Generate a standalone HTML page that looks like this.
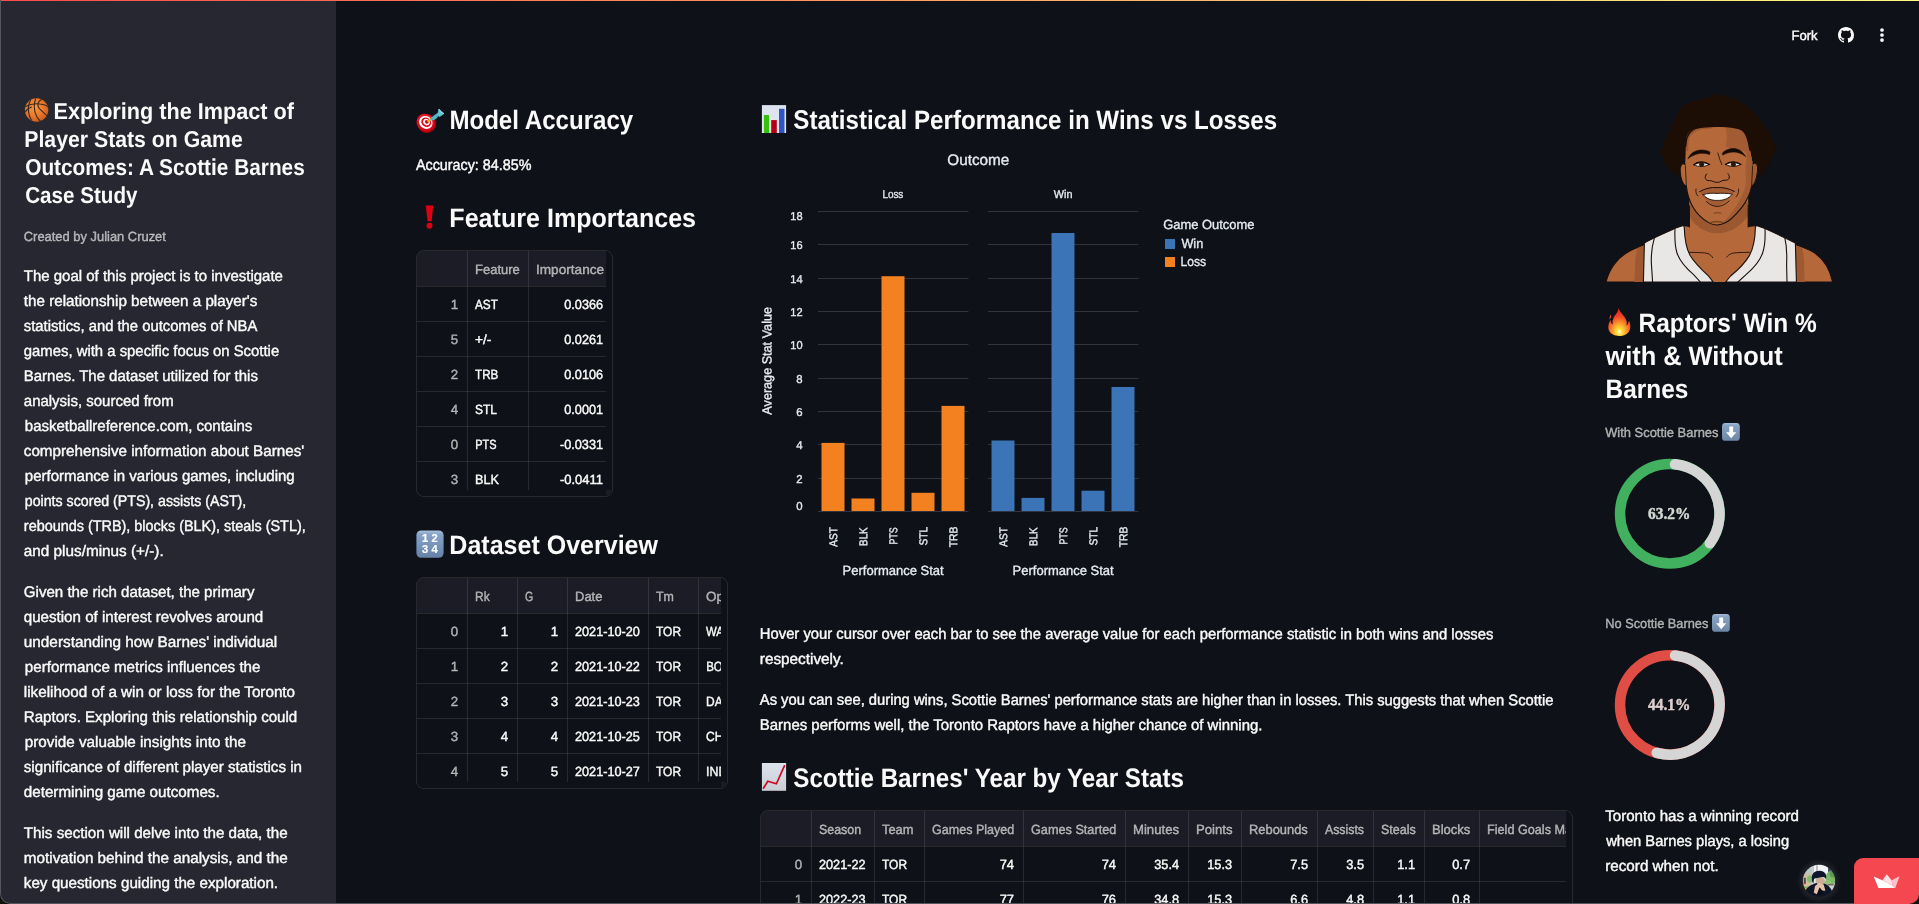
<!DOCTYPE html>
<html lang="en"><head><meta charset="utf-8"><title>Scottie Barnes Case Study</title>
<style>
html,body{margin:0;padding:0;background:#10130a;}
body{width:1919px;height:904px;overflow:hidden;font-family:'Liberation Sans', sans-serif;}
#app{position:relative;width:1919px;height:904px;overflow:hidden;background:#0e1117;border-radius:0 0 10px 10px;}
.abs{position:absolute}
.deco{position:absolute;left:0;top:0;width:1919px;height:1.2px;background:linear-gradient(90deg,#ff4b4b,#fffd80);z-index:30}
.sidebar{position:absolute;left:0;top:0;width:336px;height:904px;background:#262730}
.t{position:absolute;white-space:pre;display:block;height:1em;overflow:visible;-webkit-font-smoothing:antialiased}
.t i{font-style:normal;display:inline-block;transform-origin:0 0;white-space:pre}
.tbl{position:absolute;box-sizing:border-box;border:1px solid #27292f;border-radius:8px;overflow:hidden;background:#0e1117}
.thead{position:absolute;left:0;top:0;height:35px;background:#1b1c25}
.hl{position:absolute;left:0;height:1px;background:rgba(250,250,250,0.105)}
.vl{position:absolute;top:0;width:1px;background:rgba(250,250,250,0.105)}
.tframe{position:absolute;box-sizing:border-box;border:1px solid #27292f;border-radius:8px;overflow:hidden}
.gut{position:absolute;background:#0e1117}
.corner{position:absolute;background:#1b1c25}
.clip{position:absolute;overflow:hidden}
.txt{position:absolute;left:0;top:0;width:1919px;height:904px;will-change:transform}
.winborder{position:absolute;left:0;top:0;width:1919px;height:904px;box-sizing:border-box;border-left:1px solid #54565e;border-bottom:1px solid #54565e;border-radius:0 0 10px 10px;z-index:50;pointer-events:none}
.badge{position:absolute;left:1854px;top:858px;width:70px;height:50px;background:#f4474f;border-radius:9px 0 0 0;z-index:60}
</style></head>
<body>
<div id="app">
  <div class="deco"></div>
  <aside class="sidebar"></aside>
  <main>
  <div class="tbl" style="left:416px;top:250px;width:197px;height:247px"><div class="thead" style="width:189px"></div><div class="hl" style="top:35px;width:189px"></div><div class="hl" style="top:70px;width:189px"></div><div class="hl" style="top:105px;width:189px"></div><div class="hl" style="top:140px;width:189px"></div><div class="hl" style="top:175px;width:189px"></div><div class="hl" style="top:210px;width:189px"></div><div class="vl" style="left:50px;height:239px"></div><div class="vl" style="left:111px;height:239px"></div></div>
<div class="tbl" style="left:416px;top:577px;width:312px;height:212px"><div class="thead" style="width:304px"></div><div class="hl" style="top:35px;width:304px"></div><div class="hl" style="top:70px;width:304px"></div><div class="hl" style="top:105px;width:304px"></div><div class="hl" style="top:140px;width:304px"></div><div class="hl" style="top:175px;width:304px"></div><div class="vl" style="left:50px;height:204px"></div><div class="vl" style="left:100px;height:204px"></div><div class="vl" style="left:150px;height:204px"></div><div class="vl" style="left:231px;height:204px"></div><div class="vl" style="left:281px;height:204px"></div></div>
<div class="tbl" style="left:760px;top:810px;width:813px;height:111px"><div class="thead" style="width:805px"></div><div class="hl" style="top:35px;width:805px"></div><div class="hl" style="top:70px;width:805px"></div><div class="hl" style="top:105px;width:805px"></div><div class="vl" style="left:50px;height:109px"></div><div class="vl" style="left:113px;height:109px"></div><div class="vl" style="left:163px;height:109px"></div><div class="vl" style="left:262px;height:109px"></div><div class="vl" style="left:364px;height:109px"></div><div class="vl" style="left:427px;height:109px"></div><div class="vl" style="left:480px;height:109px"></div><div class="vl" style="left:556px;height:109px"></div><div class="vl" style="left:612px;height:109px"></div><div class="vl" style="left:663px;height:109px"></div><div class="vl" style="left:718px;height:109px"></div></div>
  <svg class="abs" style="left:0;top:0" width="1919" height="904" viewBox="0 0 1919 904"><line x1="818" x2="968.5" y1="511.5" y2="511.5" stroke="#31333f" stroke-width="1"/><line x1="818" x2="968.5" y1="478.5" y2="478.5" stroke="#31333f" stroke-width="1"/><line x1="818" x2="968.5" y1="444.5" y2="444.5" stroke="#31333f" stroke-width="1"/><line x1="818" x2="968.5" y1="411.5" y2="411.5" stroke="#31333f" stroke-width="1"/><line x1="818" x2="968.5" y1="378.5" y2="378.5" stroke="#31333f" stroke-width="1"/><line x1="818" x2="968.5" y1="344.5" y2="344.5" stroke="#31333f" stroke-width="1"/><line x1="818" x2="968.5" y1="311.5" y2="311.5" stroke="#31333f" stroke-width="1"/><line x1="818" x2="968.5" y1="278.5" y2="278.5" stroke="#31333f" stroke-width="1"/><line x1="818" x2="968.5" y1="244.5" y2="244.5" stroke="#31333f" stroke-width="1"/><line x1="818" x2="968.5" y1="211.5" y2="211.5" stroke="#31333f" stroke-width="1"/><line x1="988" x2="1138.5" y1="511.5" y2="511.5" stroke="#31333f" stroke-width="1"/><line x1="988" x2="1138.5" y1="478.5" y2="478.5" stroke="#31333f" stroke-width="1"/><line x1="988" x2="1138.5" y1="444.5" y2="444.5" stroke="#31333f" stroke-width="1"/><line x1="988" x2="1138.5" y1="411.5" y2="411.5" stroke="#31333f" stroke-width="1"/><line x1="988" x2="1138.5" y1="378.5" y2="378.5" stroke="#31333f" stroke-width="1"/><line x1="988" x2="1138.5" y1="344.5" y2="344.5" stroke="#31333f" stroke-width="1"/><line x1="988" x2="1138.5" y1="311.5" y2="311.5" stroke="#31333f" stroke-width="1"/><line x1="988" x2="1138.5" y1="278.5" y2="278.5" stroke="#31333f" stroke-width="1"/><line x1="988" x2="1138.5" y1="244.5" y2="244.5" stroke="#31333f" stroke-width="1"/><line x1="988" x2="1138.5" y1="211.5" y2="211.5" stroke="#31333f" stroke-width="1"/><rect x="821.50" y="442.90" width="23" height="68.10" fill="#f48120"/><rect x="851.50" y="498.50" width="23" height="12.50" fill="#f48120"/><rect x="881.50" y="276.20" width="23" height="234.80" fill="#f48120"/><rect x="911.50" y="492.80" width="23" height="18.20" fill="#f48120"/><rect x="941.50" y="405.90" width="23" height="105.10" fill="#f48120"/><rect x="991.50" y="440.50" width="23" height="70.50" fill="#3b75b7"/><rect x="1021.50" y="497.90" width="23" height="13.10" fill="#3b75b7"/><rect x="1051.50" y="233.00" width="23" height="278.00" fill="#3b75b7"/><rect x="1081.50" y="490.70" width="23" height="20.30" fill="#3b75b7"/><rect x="1111.50" y="387.00" width="23" height="124.00" fill="#3b75b7"/><rect x="1165" y="239" width="10" height="10" fill="#3b75b7"/><rect x="1165" y="257" width="10" height="10" fill="#f48120"/></svg>
  <div class="txt">
  
<svg class="abs" style="left:1600px;top:90px" width="240" height="192" viewBox="1600 90 240 192">
<defs><clipPath id="pclip"><rect x="1600" y="90" width="240" height="192"/></clipPath>
<clipPath id="faceclip"><path d="M1686 141 C1686 131 1694 127.5 1703 127 C1712 125.6 1730 125.6 1739 128.6 C1747 131 1748.5 141 1750 150 L1752.8 164 C1756 161.5 1758.6 165 1757.6 171 C1756.6 178 1755.4 184.5 1751.6 186.4 C1750.2 194 1747 200.6 1741.8 207.3 C1736 214.6 1729.6 221.2 1723.6 223.6 C1719 225.4 1713 225.2 1708.6 222.6 C1702.6 219 1696.6 213.6 1692.6 206.4 C1688.8 199.6 1687.2 193.6 1686.4 186.6 C1682.4 184.6 1680.6 177.6 1680.2 171 C1679.8 165.4 1682.2 162.2 1685.2 164.6 Z"/></clipPath></defs>
<g clip-path="url(#pclip)" stroke-linejoin="round" stroke-linecap="round">
<!-- arms / shoulders -->
<path d="M1606 282 C1609 270 1617 258 1628 252 C1634 248.5 1640 246.5 1645 244.5 L1645 282 Z" fill="#b5693a" stroke="#1a0f0a" stroke-width="1.1"/>
<path d="M1634 282 C1636 272 1633.5 262 1637.5 248 L1645 245 L1645 282 Z" fill="#9e5931"/>
<path d="M1832.6 282 C1830 270 1824 259 1814 252.6 C1808 249 1801 246.6 1795 244.6 L1795 282 Z" fill="#b5693a" stroke="#1a0f0a" stroke-width="1.1"/>
<path d="M1805 282 C1803 272 1806 262 1802 248 L1795 245 L1795 282 Z" fill="#9e5931"/>
<!-- neck and chest -->
<path d="M1689.4 200 L1689.4 227 L1683 226 L1683 282 L1757 282 L1757 226 L1748.2 227 L1748.2 198 Z" fill="#b5693a"/>
<path d="M1689.4 202 L1689.4 216.5 C1696 227.5 1706 233.2 1717.4 233.2 C1729 233.2 1740 227.5 1748.2 215.5 L1748.2 202 Z" fill="#9a5730"/>
<path d="M1689.4 206 L1689.4 227 M1748.2 205 L1748.2 227" fill="none" stroke="#1a0f0a" stroke-width="1.1"/>
<path d="M1688.2 252.3 C1697 252.6 1704 252.4 1708 253.6 C1710.4 254.6 1711.6 256 1712.6 257.6 M1749.4 252.3 C1741 252.6 1735 252.4 1731.4 253.6 C1729 254.6 1727.8 255.6 1726.8 257" fill="none" stroke="#1a0f0a" stroke-width="0.9"/>
<!-- jersey left -->
<path d="M1643.4 282 L1644.4 243 C1652 238.6 1664 233.6 1675 228.2 L1683.2 225.4 L1684.2 227 C1684.6 238 1686 248 1690 255.2 C1695 263.6 1702 270 1708.8 276.3 L1713.2 282 Z" fill="#e9e7e5" stroke="#1a0f0a" stroke-width="1.1"/>
<path d="M1654.4 237.6 C1652 246 1651 256 1651.4 264 L1652.6 282" fill="none" stroke="#1a0f0a" stroke-width="1.1"/>
<path d="M1675 228.6 C1674.6 238 1674.8 246 1677 253 C1680 262 1687 269 1693.6 274.6 L1700.4 282" fill="none" stroke="#1a0f0a" stroke-width="1.1"/>
<!-- jersey right -->
<path d="M1796.4 282 L1795.4 243 C1787 238.6 1776 233.6 1765 228.6 L1756.4 225.4 L1755.4 227 C1755.2 238 1753.6 248 1749.4 255.6 C1744.6 263.6 1738 270 1730.6 276 L1725.6 282 Z" fill="#e9e7e5" stroke="#1a0f0a" stroke-width="1.1"/>
<path d="M1784.8 237.6 C1786.8 246 1787 256 1786.6 264 L1787 282" fill="none" stroke="#1a0f0a" stroke-width="1.1"/>
<path d="M1765 229 C1765.4 238 1765 246 1762.6 253 C1759.6 262 1752.6 269 1746 274.6 L1738 282" fill="none" stroke="#1a0f0a" stroke-width="1.1"/>
<!-- hair -->
<path d="M1720.0 95.6 Q1721.5 94.5 1722.6 97.4 Q1724.8 94.7 1726.4 96.0 Q1727.8 95.3 1728.4 98.6 Q1731.3 96.5 1733.0 98.2 Q1735.8 97.8 1737.0 101.0 Q1740.5 100.6 1742.0 103.6 Q1745.7 104.0 1747.0 107.6 Q1750.4 108.2 1751.0 111.6 Q1754.9 112.1 1755.6 115.0 Q1759.0 116.5 1759.0 120.0 Q1763.1 122.0 1763.4 125.4 Q1766.8 127.2 1766.4 130.0 Q1770.5 132.5 1770.6 135.6 Q1773.3 138.2 1772.0 141.0 Q1775.3 144.1 1774.6 147.0 Q1775.8 150.1 1773.0 152.6 Q1774.4 155.6 1772.0 157.6 Q1772.2 160.0 1768.6 161.0 Q1769.9 164.3 1767.6 166.0 Q1767.2 169.2 1763.4 170.4 Q1764.6 174.4 1762.6 176.0 Q1761.4 174.2 1757.0 170.0 Q1753.5 160.0 1750.0 150.0 Q1718.0 148.0 1686.0 146.0 Q1684.5 157.0 1683.0 168.0 Q1678.3 173.5 1676.6 176.4 Q1673.7 175.1 1674.0 171.4 Q1670.1 170.6 1669.6 167.6 Q1666.2 166.5 1666.4 163.6 Q1663.6 161.5 1664.6 158.0 Q1661.1 155.0 1661.4 151.0 Q1660.7 149.1 1664.0 146.6 Q1662.8 143.9 1665.6 141.0 Q1665.0 138.4 1668.4 136.0 Q1667.7 132.7 1671.0 130.0 Q1670.4 126.5 1673.6 124.0 Q1673.0 121.0 1676.0 119.6 Q1674.5 116.7 1676.6 115.6 Q1676.8 112.7 1680.4 112.0 Q1680.2 108.0 1683.0 106.6 Q1684.6 104.1 1689.0 104.6 Q1690.3 101.5 1694.0 101.6 Q1696.0 99.3 1700.0 100.6 Q1701.8 97.6 1705.0 98.4 Q1707.2 96.3 1710.4 98.0 Q1712.2 94.7 1714.6 95.4 Q1717.3 93.5 1720.0 95.6 Z" fill="#1d0e05" stroke="#1d0e05" stroke-width="0.8"/>
<!-- face base -->
<path d="M1686 141 C1686 131 1694 127.5 1703 127 C1712 125.6 1730 125.6 1739 128.6 C1747 131 1748.5 141 1750 150 L1752.8 164 C1756 161.5 1758.6 165 1757.6 171 C1756.6 178 1755.4 184.5 1751.6 186.4 C1750.2 194 1747 200.6 1741.8 207.3 C1736 214.6 1729.6 221.2 1723.6 223.6 C1719 225.4 1713 225.2 1708.6 222.6 C1702.6 219 1696.6 213.6 1692.6 206.4 C1688.8 199.6 1687.2 193.6 1686.4 186.6 C1682.4 184.6 1680.6 177.6 1680.2 171 C1679.8 165.4 1682.2 162.2 1685.2 164.6 Z" fill="#b5693a"/>
<g clip-path="url(#faceclip)">
<path d="M1724 124 C1728 132 1727 140 1725.6 147 L1746 152 C1748 160 1744 170 1746 178 C1747 186 1742 196 1738 203 C1733 212 1727 218 1722 224 L1760 224 L1760 124 Z" fill="#a25c33"/>
<path d="M1686 150 L1686 141 C1686 131 1694 127.5 1703 127 L1712 126 L1712 128.5 C1700 128.5 1690 131 1688.6 142 L1688 152 Z" fill="#8a4a26" opacity="0.55"/>
</g>
<path d="M1685.6 146 C1686 131 1694 127.5 1703 127 C1712 125.6 1730 125.6 1739 128.6 C1747 131 1748.5 141 1750 150" fill="none" stroke="#1d0e05" stroke-width="1.6"/>
<path d="M1752.8 164 C1756 161.5 1758.6 165 1757.6 171 C1756.6 178 1755.4 184.5 1751.6 186.4 C1750.2 194 1747 200.6 1741.8 207.3 C1736 214.6 1729.6 221.2 1723.6 223.6 C1719 225.4 1713 225.2 1708.6 222.6 C1702.6 219 1696.6 213.6 1692.6 206.4 C1688.8 199.6 1687.2 193.6 1686.4 186.6 C1682.4 184.6 1680.6 177.6 1680.2 171 C1679.8 165.4 1682.2 162.2 1685.2 164.6" fill="none" stroke="#1a0f0a" stroke-width="1.1"/>
<path d="M1686.4 186.6 L1685.4 166 M1751.6 186.4 L1752.6 166" fill="none" stroke="#1a0f0a" stroke-width="0.8"/>
<path d="M1711 222.6 C1714 221.6 1720 221.6 1723 222.4" fill="none" stroke="#7a4a22" stroke-width="1.6"/>
<!-- eyebrows -->
<path d="M1688.2 158.4 C1690.4 153.6 1694 151 1699 150.2 C1703.6 149.6 1707.6 150.6 1710 152 L1709.6 154.6 C1706 153.2 1702.4 153 1698.8 153.6 C1694.6 154.4 1691 156.4 1688.2 158.4 Z" fill="#150a04" stroke="#150a04" stroke-width="0.6"/>
<path d="M1722.4 153 C1725 150.4 1729 148.6 1733 148.6 C1738 148.6 1742.4 151 1745.6 156.6 C1742 153.6 1738 152 1733.6 152 C1729.6 152 1726 153.2 1723 155 Z" fill="#150a04" stroke="#150a04" stroke-width="0.6"/>
<!-- eyes -->
<path d="M1694.4 165 C1697.6 162.2 1704 161.8 1709 164.6 C1705 167 1698 167.2 1694.4 165 Z" fill="#efe9e4" stroke="#150a04" stroke-width="0.9"/>
<ellipse cx="1701.6" cy="164.6" rx="2.6" ry="2.2" fill="#2a160a"/>
<path d="M1726 164.6 C1729.6 161.8 1736 162 1740.4 164.6 C1736.6 167 1729.6 167 1726 164.6 Z" fill="#efe9e4" stroke="#150a04" stroke-width="0.9"/>
<ellipse cx="1733.4" cy="164.4" rx="2.6" ry="2.2" fill="#2a160a"/>
<path d="M1693.6 164.6 C1697.6 161.2 1704.4 161 1709.6 164.4 M1725.4 164.4 C1729.6 161 1736.4 161.2 1741 164.4" fill="none" stroke="#150a04" stroke-width="1.2"/>
<!-- nose -->
<path d="M1717.8 153 C1718.8 157 1720.4 161 1721.8 164.6" fill="none" stroke="#1a0f0a" stroke-width="0.8"/>
<path d="M1706.6 174 C1704 177 1705 181 1709.4 180.6 C1712.4 180.4 1714 182.6 1717.4 182.4 C1720.6 182.2 1722 180 1725 180.2 C1729.6 180.6 1730.6 176.6 1728 173.6" fill="none" stroke="#1a0f0a" stroke-width="1"/>
<!-- mouth -->
<path d="M1699.6 191.6 C1705 188.6 1711 187 1717 187.6 C1723 187 1729 188.6 1734.4 191.4 C1731 197 1726 202.6 1717 206.4 C1708 202.8 1703 197 1699.6 191.6 Z" fill="#a35b33"/>
<path d="M1703.2 194.6 C1708 193 1712.6 193.2 1717 193.4 C1722 193.2 1727 193 1732.2 194.2 C1729 198.6 1723.6 200.6 1717.4 200.4 C1711.6 200.6 1706.4 198.8 1703.2 194.6 Z" fill="#ffffff" stroke="#1a0f0a" stroke-width="0.9"/>
<path d="M1699.6 191.6 C1705 188.6 1711 187 1717 187.6 C1723 187 1729 188.6 1734.4 191.4" fill="none" stroke="#1a0f0a" stroke-width="1"/>
<path d="M1706.4 201.6 C1710 205 1714 206.4 1717.4 206.4 C1721 206.4 1725.6 204.6 1729.2 200.8" fill="none" stroke="#1a0f0a" stroke-width="0.9"/>
<path d="M1696 189 C1695.4 192 1696.4 194.6 1697.8 196 M1738.6 189 C1739 192 1737.8 195 1736.2 196.8" fill="none" stroke="#1a0f0a" stroke-width="0.8"/>
<path d="M1713.8 213.2 C1715.6 212.6 1719 212.6 1721 213.2" fill="none" stroke="#6b3a1e" stroke-width="0.9"/>
</g></svg>
<svg class="abs" style="left:24px;top:97px" width="26" height="26" viewBox="0 0 26 26" ><defs><radialGradient id="bb" cx="0.42" cy="0.4" r="0.65"><stop offset="0" stop-color="#f89a3e"/><stop offset="0.6" stop-color="#e8762a"/><stop offset="1" stop-color="#c65a1c"/></radialGradient><clipPath id="bbc"><circle cx="12.6" cy="13" r="11.7"/></clipPath></defs>
<circle cx="12.6" cy="13" r="11.7" fill="url(#bb)"/>
<g clip-path="url(#bbc)" fill="none" stroke="#3b2a20" stroke-width="1.15" stroke-linecap="round">
<path d="M18 2.4 C13.6 3.6 13.6 8 14.4 10 C16 13.6 22 16.6 24.4 20.6"/>
<path d="M1.6 9.6 C6 7 12 6.4 16 7 C19.6 7.4 22.6 8.6 24 10"/>
<path d="M11.6 1.6 C9.6 8 10 15 13 20 C14.4 22.4 16 24 17.4 25"/>
<path d="M6.4 3.6 C4.6 7 4 11 4.6 15 C5 18.4 6 21 7.4 23"/>
<path d="M1.4 14.6 C3 12.4 5 11 7.4 10"/>
</g></svg>
<svg class="abs" style="left:414px;top:106px" width="32" height="28" viewBox="414 106 32 28" ><defs><radialGradient id="dg" cx="0.4" cy="0.4" r="0.7"><stop offset="0" stop-color="#ff2a3a"/><stop offset="1" stop-color="#c40014"/></radialGradient></defs>
<ellipse cx="426.6" cy="123.6" rx="9.6" ry="9.2" fill="#a8000f" transform="rotate(35 426.6 123.6)"/>
<ellipse cx="425.6" cy="122.6" rx="9.4" ry="8.6" fill="url(#dg)" transform="rotate(35 425.6 122.6)"/>
<ellipse cx="425.8" cy="122.4" rx="7" ry="6.2" fill="#fff" transform="rotate(35 425.8 122.4)"/>
<ellipse cx="426.2" cy="122.2" rx="5.2" ry="4.5" fill="#e0101f" transform="rotate(35 426.2 122.2)"/>
<ellipse cx="426.5" cy="122" rx="3.5" ry="3" fill="#fff" transform="rotate(35 426.5 122)"/>
<ellipse cx="426.8" cy="121.8" rx="2" ry="1.7" fill="#d40012" transform="rotate(35 426.8 121.8)"/>
<path d="M428 121.4 L431.4 118.4" stroke="#e9b800" stroke-width="1.6" stroke-linecap="round"/>
<path d="M431 119.6 C433 116.6 436 114.4 439 113.4 L437.6 116 C435.6 118.6 433.4 120.2 431 119.6 Z" fill="#5fc4d4" stroke="#4ab0c2" stroke-width="1.6" stroke-linejoin="round"/>
<path d="M437.6 115 L439 109 L441.6 111.6 L444 113.6 L439.6 116.6 Z" fill="#5fc4d4" stroke="#5fc4d4" stroke-width="0.8" stroke-linejoin="round"/>
<path d="M438.8 109.2 L441 112.4 L443.8 113.6" fill="none" stroke="#9fe0ea" stroke-width="0.8"/></svg>
<svg class="abs" style="left:422px;top:203px" width="16" height="28" viewBox="422 203 16 28" ><path d="M425.7 205.6 L433.2 205.6 L431.6 221.2 L427.6 221.2 Z" fill="#de0012"/><circle cx="429.5" cy="225.7" r="3" fill="#de0012"/></svg>
<svg class="abs" style="left:415px;top:529px" width="30" height="30" viewBox="415 529 30 30" ><defs><linearGradient id="ng" x1="0" y1="0" x2="0" y2="1"><stop offset="0" stop-color="#a9c1de"/><stop offset="0.14" stop-color="#86a4c9"/><stop offset="1" stop-color="#6482a8"/></linearGradient></defs>
<rect x="416.4" y="530.4" width="27.2" height="27.4" rx="4.8" fill="url(#ng)"/>
<g font-family="'Liberation Sans',sans-serif" font-weight="700" font-size="10.3" fill="#fff" stroke="#fff" stroke-width="0.2" text-anchor="middle">
<text transform="translate(425.1 541.9) scale(1.08 1)">1</text><text transform="translate(434.6 541.9) scale(1.08 1)">2</text><text transform="translate(425.1 552.9) scale(1.08 1)">3</text><text transform="translate(434.6 552.9) scale(1.08 1)">4</text></g></svg>
<svg class="abs" style="left:760px;top:103px" width="28" height="32" viewBox="760 103 28 32" ><defs><linearGradient id="pg" x1="0" y1="0" x2="0" y2="1"><stop offset="0" stop-color="#dbe3ef"/><stop offset="1" stop-color="#e6e9ee"/></linearGradient></defs>
<rect x="761.9" y="105.1" width="24.2" height="27.9" fill="url(#pg)"/>
<rect x="763.9" y="115" width="5.1" height="18" fill="#36c20c"/><rect x="771.2" y="120.1" width="5.6" height="12.9" fill="#b20016"/><rect x="779" y="108.8" width="5.5" height="24.2" fill="#2f56c4"/></svg>
<svg class="abs" style="left:760px;top:761px" width="28" height="32" viewBox="760 761 28 32" ><defs><linearGradient id="pg2" x1="0" y1="0" x2="0" y2="1"><stop offset="0" stop-color="#dde3ec"/><stop offset="1" stop-color="#c9ced6"/></linearGradient></defs>
<rect x="761.9" y="763" width="24.2" height="27.8" fill="url(#pg2)"/>
<path d="M763.6 788 L767.8 781.2 L776.4 783.8 L784.4 765.8" fill="none" stroke="#cc0a22" stroke-width="1.7" stroke-linejoin="miter" stroke-linecap="round"/></svg>
<svg class="abs" style="left:1606px;top:306px" width="28" height="32" viewBox="1606 306 28 32" ><defs><radialGradient id="fg" cx="0.5" cy="0.86" r="0.75"><stop offset="0" stop-color="#fffbe0"/><stop offset="0.16" stop-color="#ffe23a"/><stop offset="0.42" stop-color="#fb9a2c"/><stop offset="0.75" stop-color="#f2452a"/><stop offset="1" stop-color="#e8281f"/></radialGradient></defs>
<path d="M1618.4 308 C1619.6 312 1624.6 315.6 1626.4 320.6 C1627 322.4 1626.8 324.4 1626.4 325.8 C1628 324.6 1628.6 322.4 1629 320.6 C1630.6 323.6 1630.8 327.6 1629.6 330.4 C1627.8 334.2 1623.6 335.9 1619.4 335.9 C1614.6 335.9 1610.6 334.4 1609 330.6 C1607.6 327 1608.6 322.6 1610.6 320 C1610.6 322 1611.4 323.6 1612.8 324.4 C1612 320 1614 316.6 1616.4 313.6 C1617.6 312 1618.4 310 1618.4 308 Z" fill="url(#fg)"/>
<path d="M1610.8 314.6 C1610 316.4 1609.2 318 1609.6 319.6 C1610.8 318.4 1611.4 316.4 1610.8 314.6 Z" fill="#f0502c"/></svg>
<svg class="abs" style="left:1721px;top:422.2px" width="20" height="20" viewBox="1721 422.2 20 20" ><defs><linearGradient id="dg1722" x1="0" y1="0" x2="0" y2="1"><stop offset="0" stop-color="#a9bfdb"/><stop offset="0.12" stop-color="#8aa4c6"/><stop offset="1" stop-color="#6c86a6"/></linearGradient></defs>
<rect x="1722" y="423.2" width="17.8" height="17.8" rx="3.4" fill="url(#dg1722)"/>
<path d="M1729.3 426.7 h3.8 v5.7 h3.2 l-5.1 6 l-5.1 -6 h3.2 z" fill="#fff"/></svg>
<svg class="abs" style="left:1711.1px;top:613.2px" width="20" height="20" viewBox="1711.1 613.2 20 20" ><defs><linearGradient id="dg1712" x1="0" y1="0" x2="0" y2="1"><stop offset="0" stop-color="#a9bfdb"/><stop offset="0.12" stop-color="#8aa4c6"/><stop offset="1" stop-color="#6c86a6"/></linearGradient></defs>
<rect x="1712.1" y="614.2" width="17.8" height="17.8" rx="3.4" fill="url(#dg1712)"/>
<path d="M1719.3999999999999 617.7 h3.8 v5.7 h3.2 l-5.1 6 l-5.1 -6 h3.2 z" fill="#fff"/></svg>
<svg class="abs" style="left:1838px;top:27px" width="16" height="16" viewBox="0 0 16 16" ><path fill="#fafafa" d="M8 0C3.58 0 0 3.58 0 8c0 3.54 2.29 6.53 5.47 7.59.4.07.55-.17.55-.38 0-.19-.01-.82-.01-1.49-2.01.37-2.53-.49-2.69-.94-.09-.23-.48-.94-.82-1.13-.28-.15-.68-.52-.01-.53.63-.01 1.08.58 1.23.82.72 1.21 1.87.87 2.33.66.07-.52.28-.87.51-1.07-1.78-.2-3.64-.89-3.64-3.95 0-.87.31-1.59.82-2.15-.08-.2-.36-1.02.08-2.12 0 0 .67-.21 2.2.82.64-.18 1.32-.27 2-.27.68 0 1.36.09 2 .27 1.53-1.04 2.2-.82 2.2-.82.44 1.1.16 1.92.08 2.12.51.56.82 1.27.82 2.15 0 3.07-1.87 3.75-3.65 3.95.29.25.54.73.54 1.48 0 1.07-.01 1.93-.01 2.2 0 .21.15.46.55.38A8.013 8.013 0 0016 8c0-4.42-3.58-8-8-8z"/></svg>
<svg class="abs" style="left:1876px;top:26px" width="12" height="18" viewBox="1876 26 12 18" ><circle cx="1882" cy="30" r="1.85" fill="#fafafa"/><circle cx="1882" cy="35" r="1.85" fill="#fafafa"/><circle cx="1882" cy="40.1" r="1.85" fill="#fafafa"/></svg>
  <svg class="abs" style="left:0;top:0" width="1919" height="904" viewBox="0 0 1919 904"><circle cx="1669.8" cy="513.8" r="49.75" fill="none" stroke="#41b05f" stroke-width="10.5"/><path d="M1675.04 464.33 A49.75 49.75 0 0 1 1709.83 543.35" fill="none" stroke="#d5d5d5" stroke-width="10.5" stroke-linecap="round"/><text x="1669.2" y="519.0999999999999" text-anchor="middle" font-family="'Liberation Serif', serif" font-weight="700" font-size="16" fill="#d3d9d3" stroke="#d3d9d3" stroke-width="0.45" textLength="42.4" lengthAdjust="spacingAndGlyphs">63.2%</text><circle cx="1669.8" cy="704.9" r="49.75" fill="none" stroke="#e04d44" stroke-width="10.5"/><path d="M1675.04 655.43 A49.75 49.75 0 1 1 1656.76 752.91" fill="none" stroke="#d5d5d5" stroke-width="10.5" stroke-linecap="round"/><text x="1669.2" y="710.1999999999999" text-anchor="middle" font-family="'Liberation Serif', serif" font-weight="700" font-size="16" fill="#ded0d0" stroke="#ded0d0" stroke-width="0.45" textLength="42.4" lengthAdjust="spacingAndGlyphs">44.1%</text></svg>
<span class="t" style="left:53px;top:100px;font:700 23.0px/1 'Liberation Sans';color:#fafafa;"><i style="transform:translateX(0.46px) translateY(-0.06px) scaleX(0.9406) rotate(0.03deg);">Exploring the Impact of</i></span>
<span class="t" style="left:24px;top:128px;font:700 23.0px/1 'Liberation Sans';color:#fafafa;"><i style="transform:translateX(0.28px) translateY(-0.06px) scaleX(0.9238) rotate(0.03deg);">Player Stats on Game</i></span>
<span class="t" style="left:25px;top:156px;font:700 23.0px/1 'Liberation Sans';color:#fafafa;"><i style="transform:translateX(0.20px) translateY(-0.07px) scaleX(0.9052) rotate(0.03deg);">Outcomes: A Scottie Barnes</i></span>
<span class="t" style="left:25px;top:184px;font:700 23.0px/1 'Liberation Sans';color:#fafafa;"><i style="transform:translateX(0.20px) scaleX(0.8968) rotate(0.03deg);">Case Study</i></span>
<span class="t" style="left:23px;top:230px;font:400 13.3px/1 'Liberation Sans';color:rgba(250,250,250,0.6);"><i style="transform:translateX(0.80px) scaleX(0.9707) rotate(0.03deg);-webkit-text-stroke:0.38px currentColor;">Created by Julian Cruzet</i></span>
<span class="t" style="left:23px;top:268px;font:400 15.3px/1 'Liberation Sans';color:#fafafa;"><i style="transform:translateX(0.80px) translateY(-0.07px) scaleX(0.9798) rotate(0.03deg);-webkit-text-stroke:0.42px currentColor;">The goal of this project is to investigate</i></span>
<span class="t" style="left:23px;top:293px;font:400 15.3px/1 'Liberation Sans';color:#fafafa;"><i style="transform:translateX(0.80px) translateY(-0.06px) scaleX(0.9933) rotate(0.03deg);-webkit-text-stroke:0.42px currentColor;">the relationship between a player&#x27;s</i></span>
<span class="t" style="left:23px;top:318px;font:400 15.3px/1 'Liberation Sans';color:#fafafa;"><i style="transform:translateX(0.80px) translateY(-0.06px) scaleX(0.9670) rotate(0.03deg);-webkit-text-stroke:0.42px currentColor;">statistics, and the outcomes of NBA</i></span>
<span class="t" style="left:23px;top:343px;font:400 15.3px/1 'Liberation Sans';color:#fafafa;"><i style="transform:translateX(0.80px) translateY(-0.07px) scaleX(0.9720) rotate(0.03deg);-webkit-text-stroke:0.42px currentColor;">games, with a specific focus on Scottie</i></span>
<span class="t" style="left:23px;top:368px;font:400 15.3px/1 'Liberation Sans';color:#fafafa;"><i style="transform:translateX(0.82px) translateY(-0.06px) scaleX(0.9772) rotate(0.03deg);-webkit-text-stroke:0.42px currentColor;">Barnes. The dataset utilized for this</i></span>
<span class="t" style="left:23px;top:393px;font:400 15.3px/1 'Liberation Sans';color:#fafafa;"><i style="transform:translateX(0.80px) scaleX(0.9794) rotate(0.03deg);-webkit-text-stroke:0.42px currentColor;">analysis, sourced from</i></span>
<span class="t" style="left:24px;top:418px;font:400 15.3px/1 'Liberation Sans';color:#fafafa;"><i style="transform:translateX(0.80px) translateY(-0.06px) scaleX(0.9801) rotate(0.03deg);-webkit-text-stroke:0.42px currentColor;">basketballreference.com, contains</i></span>
<span class="t" style="left:23px;top:443px;font:400 15.3px/1 'Liberation Sans';color:#fafafa;"><i style="transform:translateX(0.80px) translateY(-0.07px) scaleX(0.9950) rotate(0.03deg);-webkit-text-stroke:0.42px currentColor;">comprehensive information about Barnes&#x27;</i></span>
<span class="t" style="left:24px;top:468px;font:400 15.3px/1 'Liberation Sans';color:#fafafa;"><i style="transform:translateX(0.80px) translateY(-0.07px) scaleX(0.9829) rotate(0.03deg);-webkit-text-stroke:0.42px currentColor;">performance in various games, including</i></span>
<span class="t" style="left:24px;top:493px;font:400 15.3px/1 'Liberation Sans';color:#fafafa;"><i style="transform:translateX(0.80px) translateY(-0.06px) scaleX(0.9272) rotate(0.03deg);-webkit-text-stroke:0.42px currentColor;">points scored (PTS), assists (AST),</i></span>
<span class="t" style="left:23px;top:518px;font:400 15.3px/1 'Liberation Sans';color:#fafafa;"><i style="transform:translateX(0.86px) translateY(-0.07px) scaleX(0.9419) rotate(0.03deg);-webkit-text-stroke:0.42px currentColor;">rebounds (TRB), blocks (BLK), steals (STL),</i></span>
<span class="t" style="left:23px;top:543px;font:400 15.3px/1 'Liberation Sans';color:#fafafa;"><i style="transform:translateX(0.80px) scaleX(1.0003) rotate(0.03deg);-webkit-text-stroke:0.42px currentColor;">and plus/minus (+/-).</i></span>
<span class="t" style="left:23px;top:584px;font:400 15.3px/1 'Liberation Sans';color:#fafafa;"><i style="transform:translateX(0.80px) translateY(-0.06px) scaleX(0.9864) rotate(0.03deg);-webkit-text-stroke:0.42px currentColor;">Given the rich dataset, the primary</i></span>
<span class="t" style="left:23px;top:609px;font:400 15.3px/1 'Liberation Sans';color:#fafafa;"><i style="transform:translateX(0.80px) translateY(-0.06px) scaleX(0.9880) rotate(0.03deg);-webkit-text-stroke:0.42px currentColor;">question of interest revolves around</i></span>
<span class="t" style="left:23px;top:634px;font:400 15.3px/1 'Liberation Sans';color:#fafafa;"><i style="transform:translateX(0.80px) translateY(-0.07px) scaleX(1.0020) rotate(0.03deg);-webkit-text-stroke:0.42px currentColor;">understanding how Barnes&#x27; individual</i></span>
<span class="t" style="left:24px;top:659px;font:400 15.3px/1 'Liberation Sans';color:#fafafa;"><i style="transform:translateX(0.80px) translateY(-0.06px) scaleX(0.9899) rotate(0.03deg);-webkit-text-stroke:0.42px currentColor;">performance metrics influences the</i></span>
<span class="t" style="left:23px;top:684px;font:400 15.3px/1 'Liberation Sans';color:#fafafa;"><i style="transform:translateX(0.81px) translateY(-0.07px) scaleX(0.9948) rotate(0.03deg);-webkit-text-stroke:0.42px currentColor;">likelihood of a win or loss for the Toronto</i></span>
<span class="t" style="left:23px;top:709px;font:400 15.3px/1 'Liberation Sans';color:#fafafa;"><i style="transform:translateX(0.81px) translateY(-0.07px) scaleX(0.9865) rotate(0.03deg);-webkit-text-stroke:0.42px currentColor;">Raptors. Exploring this relationship could</i></span>
<span class="t" style="left:24px;top:734px;font:400 15.3px/1 'Liberation Sans';color:#fafafa;"><i style="transform:translateX(0.80px) translateY(-0.06px) scaleX(0.9960) rotate(0.03deg);-webkit-text-stroke:0.42px currentColor;">provide valuable insights into the</i></span>
<span class="t" style="left:23px;top:759px;font:400 15.3px/1 'Liberation Sans';color:#fafafa;"><i style="transform:translateX(0.80px) translateY(-0.07px) scaleX(0.9895) rotate(0.03deg);-webkit-text-stroke:0.42px currentColor;">significance of different player statistics in</i></span>
<span class="t" style="left:23px;top:784px;font:400 15.3px/1 'Liberation Sans';color:#fafafa;"><i style="transform:translateX(0.80px) translateY(-0.05px) scaleX(0.9928) rotate(0.03deg);-webkit-text-stroke:0.42px currentColor;">determining game outcomes.</i></span>
<span class="t" style="left:23px;top:825px;font:400 15.3px/1 'Liberation Sans';color:#fafafa;"><i style="transform:translateX(0.80px) translateY(-0.07px) scaleX(0.9911) rotate(0.03deg);-webkit-text-stroke:0.42px currentColor;">This section will delve into the data, the</i></span>
<span class="t" style="left:23px;top:850px;font:400 15.3px/1 'Liberation Sans';color:#fafafa;"><i style="transform:translateX(0.80px) translateY(-0.07px) scaleX(0.9980) rotate(0.03deg);-webkit-text-stroke:0.42px currentColor;">motivation behind the analysis, and the</i></span>
<span class="t" style="left:23px;top:875px;font:400 15.3px/1 'Liberation Sans';color:#fafafa;"><i style="transform:translateX(0.81px) translateY(-0.07px) scaleX(0.9934) rotate(0.03deg);-webkit-text-stroke:0.42px currentColor;">key questions guiding the exploration.</i></span>
<span class="t" style="left:1791px;top:29px;font:400 13.3px/1 'Liberation Sans';color:#fafafa;"><i style="transform:translateX(0.47px) scaleX(0.9848) rotate(0.03deg);-webkit-text-stroke:0.42px currentColor;">Fork</i></span>
<span class="t" style="left:449px;top:107px;font:700 26.7px/1 'Liberation Sans';color:#fafafa;"><i style="transform:translateX(0.40px) translateY(-0.05px) scaleX(0.9023) rotate(0.03deg);">Model Accuracy</i></span>
<span class="t" style="left:416px;top:157px;font:400 15.3px/1 'Liberation Sans';color:#fafafa;"><i style="transform:translateX(0.00px) scaleX(0.9357) rotate(0.03deg);-webkit-text-stroke:0.42px currentColor;">Accuracy: 84.85%</i></span>
<span class="t" style="left:449px;top:205px;font:700 26.7px/1 'Liberation Sans';color:#fafafa;"><i style="transform:translateX(0.36px) translateY(-0.06px) scaleX(0.9398) rotate(0.03deg);">Feature Importances</i></span>
<span class="t" style="left:449px;top:532px;font:700 26.7px/1 'Liberation Sans';color:#fafafa;"><i style="transform:translateX(0.36px) translateY(-0.05px) scaleX(0.9376) rotate(0.03deg);">Dataset Overview</i></span>
<span class="t" style="left:793px;top:107px;font:700 26.7px/1 'Liberation Sans';color:#fafafa;"><i style="transform:translateX(0.30px) translateY(-0.13px) scaleX(0.9041) rotate(0.03deg);">Statistical Performance in Wins vs Losses</i></span>
<span class="t" style="left:759px;top:626px;font:400 15.3px/1 'Liberation Sans';color:#fafafa;"><i style="transform:translateX(0.83px) translateY(-0.19px) scaleX(0.9671) rotate(0.03deg);-webkit-text-stroke:0.42px currentColor;">Hover your cursor over each bar to see the average value for each performance statistic in both wins and losses</i></span>
<span class="t" style="left:759px;top:651px;font:400 15.3px/1 'Liberation Sans';color:#fafafa;"><i style="transform:translateX(0.80px) scaleX(1.0006) rotate(0.03deg);-webkit-text-stroke:0.42px currentColor;">respectively.</i></span>
<span class="t" style="left:759px;top:692px;font:400 15.3px/1 'Liberation Sans';color:#fafafa;"><i style="transform:translateX(0.80px) translateY(-0.21px) scaleX(0.9641) rotate(0.03deg);-webkit-text-stroke:0.42px currentColor;">As you can see, during wins, Scottie Barnes&#x27; performance stats are higher than in losses. This suggests that when Scottie</i></span>
<span class="t" style="left:759px;top:717px;font:400 15.3px/1 'Liberation Sans';color:#fafafa;"><i style="transform:translateX(0.82px) translateY(-0.13px) scaleX(0.9776) rotate(0.03deg);-webkit-text-stroke:0.42px currentColor;">Barnes performs well, the Toronto Raptors have a higher chance of winning.</i></span>
<span class="t" style="left:793px;top:765px;font:700 26.7px/1 'Liberation Sans';color:#fafafa;"><i style="transform:translateX(0.30px) translateY(-0.10px) scaleX(0.9063) rotate(0.03deg);">Scottie Barnes&#x27; Year by Year Stats</i></span>
<span class="t" style="left:947px;top:152px;font:400 15.3px/1 'Liberation Sans';color:#e6eaf1;"><i style="transform:translateX(0.29px) scaleX(0.9977) rotate(0.03deg);-webkit-text-stroke:0.35px currentColor;">Outcome</i></span>
<span class="t" style="left:882px;top:189px;font:400 11.4px/1 'Liberation Sans';color:#e6eaf1;"><i style="transform:translateX(0.40px) scaleX(0.8699) rotate(0.03deg);-webkit-text-stroke:0.35px currentColor;">Loss</i></span>
<span class="t" style="left:1053px;top:189px;font:400 11.4px/1 'Liberation Sans';color:#e6eaf1;"><i style="transform:translateX(0.81px) scaleX(0.9534) rotate(0.03deg);-webkit-text-stroke:0.35px currentColor;">Win</i></span>
<span class="t" style="left:796px;top:501px;font:400 11.4px/1 'Liberation Sans';color:#e6eaf1;"><i style="transform:translateX(0.30px) scaleX(1.0000) rotate(0.03deg);-webkit-text-stroke:0.35px currentColor;">0</i></span>
<span class="t" style="left:796px;top:474px;font:400 11.4px/1 'Liberation Sans';color:#e6eaf1;"><i style="transform:translateX(0.30px) scaleX(1.0000) rotate(0.03deg);-webkit-text-stroke:0.35px currentColor;">2</i></span>
<span class="t" style="left:796px;top:440px;font:400 11.4px/1 'Liberation Sans';color:#e6eaf1;"><i style="transform:translateX(0.30px) scaleX(1.0000) rotate(0.03deg);-webkit-text-stroke:0.35px currentColor;">4</i></span>
<span class="t" style="left:796px;top:407px;font:400 11.4px/1 'Liberation Sans';color:#e6eaf1;"><i style="transform:translateX(0.30px) scaleX(1.0000) rotate(0.03deg);-webkit-text-stroke:0.35px currentColor;">6</i></span>
<span class="t" style="left:796px;top:374px;font:400 11.4px/1 'Liberation Sans';color:#e6eaf1;"><i style="transform:translateX(0.30px) scaleX(1.0000) rotate(0.03deg);-webkit-text-stroke:0.35px currentColor;">8</i></span>
<span class="t" style="left:790px;top:340px;font:400 11.4px/1 'Liberation Sans';color:#e6eaf1;"><i style="transform:translateX(0.34px) scaleX(0.9699) rotate(0.03deg);-webkit-text-stroke:0.35px currentColor;">10</i></span>
<span class="t" style="left:790px;top:307px;font:400 11.4px/1 'Liberation Sans';color:#e6eaf1;"><i style="transform:translateX(0.34px) scaleX(0.9699) rotate(0.03deg);-webkit-text-stroke:0.35px currentColor;">12</i></span>
<span class="t" style="left:790px;top:274px;font:400 11.4px/1 'Liberation Sans';color:#e6eaf1;"><i style="transform:translateX(0.34px) scaleX(0.9699) rotate(0.03deg);-webkit-text-stroke:0.35px currentColor;">14</i></span>
<span class="t" style="left:790px;top:240px;font:400 11.4px/1 'Liberation Sans';color:#e6eaf1;"><i style="transform:translateX(0.34px) scaleX(0.9699) rotate(0.03deg);-webkit-text-stroke:0.35px currentColor;">16</i></span>
<span class="t" style="left:790px;top:211px;font:400 11.4px/1 'Liberation Sans';color:#e6eaf1;"><i style="transform:translateX(0.34px) scaleX(0.9699) rotate(0.03deg);-webkit-text-stroke:0.35px currentColor;">18</i></span>
<span class="t" style="left:717px;top:350px;font:400 13.3px/1 'Liberation Sans';color:#e6eaf1;transform-origin:54.50px 11px;transform:rotate(-90deg);"><i style="transform:translateX(0.88px) scaleX(0.9494) rotate(0.03deg);-webkit-text-stroke:0.35px currentColor;">Average Stat Value</i></span>
<span class="t" style="left:817px;top:518px;font:400 11.4px/1 'Liberation Sans';color:#e6eaf1;transform-origin:20.20px 9px;transform:rotate(-90deg);"><i style="transform:translateX(0.52px) scaleX(0.8869) rotate(0.03deg);-webkit-text-stroke:0.35px currentColor;">AST</i></span>
<span class="t" style="left:848px;top:518px;font:400 11.4px/1 'Liberation Sans';color:#e6eaf1;transform-origin:19.20px 9px;transform:rotate(-90deg);"><i style="transform:translateX(0.31px) scaleX(0.8612) rotate(0.03deg);-webkit-text-stroke:0.35px currentColor;">BLK</i></span>
<span class="t" style="left:879px;top:518px;font:400 11.4px/1 'Liberation Sans';color:#e6eaf1;transform-origin:18.20px 9px;transform:rotate(-90deg);"><i style="transform:translateX(0.73px) scaleX(0.7745) rotate(0.03deg);-webkit-text-stroke:0.35px currentColor;">PTS</i></span>
<span class="t" style="left:908px;top:518px;font:400 11.4px/1 'Liberation Sans';color:#e6eaf1;transform-origin:19.20px 9px;transform:rotate(-90deg);"><i style="transform:translateX(0.60px) scaleX(0.9049) rotate(0.03deg);-webkit-text-stroke:0.35px currentColor;">STL</i></span>
<span class="t" style="left:936px;top:518px;font:400 11.4px/1 'Liberation Sans';color:#e6eaf1;transform-origin:21.20px 9px;transform:rotate(-90deg);"><i style="transform:translateX(0.94px) scaleX(0.9133) rotate(0.03deg);-webkit-text-stroke:0.35px currentColor;">TRB</i></span>
<span class="t" style="left:842px;top:564px;font:400 13.3px/1 'Liberation Sans';color:#e6eaf1;"><i style="transform:translateX(0.63px) scaleX(0.9767) rotate(0.03deg);-webkit-text-stroke:0.35px currentColor;">Performance Stat</i></span>
<span class="t" style="left:987px;top:518px;font:400 11.4px/1 'Liberation Sans';color:#e6eaf1;transform-origin:20.20px 9px;transform:rotate(-90deg);"><i style="transform:translateX(0.52px) scaleX(0.8869) rotate(0.03deg);-webkit-text-stroke:0.35px currentColor;">AST</i></span>
<span class="t" style="left:1018px;top:518px;font:400 11.4px/1 'Liberation Sans';color:#e6eaf1;transform-origin:19.20px 9px;transform:rotate(-90deg);"><i style="transform:translateX(0.31px) scaleX(0.8612) rotate(0.03deg);-webkit-text-stroke:0.35px currentColor;">BLK</i></span>
<span class="t" style="left:1049px;top:518px;font:400 11.4px/1 'Liberation Sans';color:#e6eaf1;transform-origin:18.20px 9px;transform:rotate(-90deg);"><i style="transform:translateX(0.73px) scaleX(0.7745) rotate(0.03deg);-webkit-text-stroke:0.35px currentColor;">PTS</i></span>
<span class="t" style="left:1078px;top:518px;font:400 11.4px/1 'Liberation Sans';color:#e6eaf1;transform-origin:19.20px 9px;transform:rotate(-90deg);"><i style="transform:translateX(0.60px) scaleX(0.9049) rotate(0.03deg);-webkit-text-stroke:0.35px currentColor;">STL</i></span>
<span class="t" style="left:1106px;top:518px;font:400 11.4px/1 'Liberation Sans';color:#e6eaf1;transform-origin:21.20px 9px;transform:rotate(-90deg);"><i style="transform:translateX(0.94px) scaleX(0.9133) rotate(0.03deg);-webkit-text-stroke:0.35px currentColor;">TRB</i></span>
<span class="t" style="left:1012px;top:564px;font:400 13.3px/1 'Liberation Sans';color:#e6eaf1;"><i style="transform:translateX(0.63px) scaleX(0.9767) rotate(0.03deg);-webkit-text-stroke:0.35px currentColor;">Performance Stat</i></span>
<span class="t" style="left:1163px;top:218px;font:400 13.3px/1 'Liberation Sans';color:#e6eaf1;"><i style="transform:translateX(0.20px) scaleX(0.9713) rotate(0.03deg);-webkit-text-stroke:0.35px currentColor;">Game Outcome</i></span>
<span class="t" style="left:1181px;top:237px;font:400 13.3px/1 'Liberation Sans';color:#e6eaf1;"><i style="transform:translateX(0.40px) scaleX(0.9531) rotate(0.03deg);-webkit-text-stroke:0.35px currentColor;">Win</i></span>
<span class="t" style="left:1180px;top:255px;font:400 13.3px/1 'Liberation Sans';color:#e6eaf1;"><i style="transform:translateX(0.49px) scaleX(0.9134) rotate(0.03deg);-webkit-text-stroke:0.35px currentColor;">Loss</i></span>
<span class="t" style="left:1638px;top:310px;font:700 26.7px/1 'Liberation Sans';color:#fafafa;"><i style="transform:translateX(0.48px) translateY(-0.05px) scaleX(0.9170) rotate(0.03deg);">Raptors&#x27; Win %</i></span>
<span class="t" style="left:1605px;top:343px;font:700 26.7px/1 'Liberation Sans';color:#fafafa;"><i style="transform:translateX(0.45px) translateY(-0.05px) scaleX(0.9508) rotate(0.03deg);">with &amp; Without</i></span>
<span class="t" style="left:1605px;top:376px;font:700 26.7px/1 'Liberation Sans';color:#fafafa;"><i style="transform:translateX(0.59px) scaleX(0.9150) rotate(0.03deg);">Barnes</i></span>
<span class="t" style="left:1605px;top:426px;font:400 13.3px/1 'Liberation Sans';color:rgba(250,250,250,0.6);"><i style="transform:translateX(0.20px) scaleX(0.9702) rotate(0.03deg);-webkit-text-stroke:0.38px currentColor;">With Scottie Barnes</i></span>
<span class="t" style="left:1605px;top:617px;font:400 13.3px/1 'Liberation Sans';color:rgba(250,250,250,0.6);"><i style="transform:translateX(0.24px) scaleX(0.9620) rotate(0.03deg);-webkit-text-stroke:0.38px currentColor;">No Scottie Barnes</i></span>
<span class="t" style="left:1605px;top:808px;font:400 15.3px/1 'Liberation Sans';color:#fafafa;"><i style="transform:translateX(0.20px) translateY(-0.05px) scaleX(0.9864) rotate(0.03deg);-webkit-text-stroke:0.42px currentColor;">Toronto has a winning record</i></span>
<span class="t" style="left:1606px;top:833px;font:400 15.3px/1 'Liberation Sans';color:#fafafa;"><i style="transform:translateX(0.16px) translateY(-0.05px) scaleX(0.9608) rotate(0.03deg);-webkit-text-stroke:0.42px currentColor;">when Barnes plays, a losing</i></span>
<span class="t" style="left:1605px;top:858px;font:400 15.3px/1 'Liberation Sans';color:#fafafa;"><i style="transform:translateX(0.20px) scaleX(0.9955) rotate(0.03deg);-webkit-text-stroke:0.42px currentColor;">record when not.</i></span>
<div class="clip" style="left:417px;top:251px;width:189px;height:239px"><span class="t" style="left:58px;top:12px;font:400 13.3px/1 'Liberation Sans';color:rgba(250,250,250,0.6);"><i style="transform:translateX(0.02px) scaleX(0.9770) rotate(0.03deg);-webkit-text-stroke:0.38px currentColor;">Feature</i></span>
<span class="t" style="left:118px;top:12px;font:400 13.3px/1 'Liberation Sans';color:rgba(250,250,250,0.6);"><i style="transform:translateX(0.98px) scaleX(1.0248) rotate(0.03deg);-webkit-text-stroke:0.38px currentColor;">Importance</i></span>
<span class="t" style="left:33px;top:47px;font:400 13.3px/1 'Liberation Sans';color:rgba(250,250,250,0.6);"><i style="transform:translateX(0.64px) scaleX(1.0000) rotate(0.03deg);-webkit-text-stroke:0.38px currentColor;">1</i></span>
<span class="t" style="left:58px;top:47px;font:400 13.3px/1 'Liberation Sans';color:#fafafa;"><i style="transform:translateX(0.00px) scaleX(0.8858) rotate(0.03deg);-webkit-text-stroke:0.42px currentColor;">AST</i></span>
<span class="t" style="left:147px;top:47px;font:400 13.3px/1 'Liberation Sans';color:#fafafa;"><i style="transform:translateX(0.32px) scaleX(0.9514) rotate(0.03deg);-webkit-text-stroke:0.42px currentColor;">0.0366</i></span>
<span class="t" style="left:33px;top:82px;font:400 13.3px/1 'Liberation Sans';color:rgba(250,250,250,0.6);"><i style="transform:translateX(0.64px) scaleX(1.0000) rotate(0.03deg);-webkit-text-stroke:0.38px currentColor;">5</i></span>
<span class="t" style="left:58px;top:82px;font:400 13.3px/1 'Liberation Sans';color:#fafafa;"><i style="transform:translateX(0.00px) scaleX(1.0258) rotate(0.03deg);-webkit-text-stroke:0.42px currentColor;">+/-</i></span>
<span class="t" style="left:147px;top:82px;font:400 13.3px/1 'Liberation Sans';color:#fafafa;"><i style="transform:translateX(0.32px) scaleX(0.9514) rotate(0.03deg);-webkit-text-stroke:0.42px currentColor;">0.0261</i></span>
<span class="t" style="left:33px;top:117px;font:400 13.3px/1 'Liberation Sans';color:rgba(250,250,250,0.6);"><i style="transform:translateX(0.64px) scaleX(1.0000) rotate(0.03deg);-webkit-text-stroke:0.38px currentColor;">2</i></span>
<span class="t" style="left:58px;top:117px;font:400 13.3px/1 'Liberation Sans';color:#fafafa;"><i style="transform:translateX(0.00px) scaleX(0.8782) rotate(0.03deg);-webkit-text-stroke:0.42px currentColor;">TRB</i></span>
<span class="t" style="left:147px;top:117px;font:400 13.3px/1 'Liberation Sans';color:#fafafa;"><i style="transform:translateX(0.32px) scaleX(0.9514) rotate(0.03deg);-webkit-text-stroke:0.42px currentColor;">0.0106</i></span>
<span class="t" style="left:33px;top:152px;font:400 13.3px/1 'Liberation Sans';color:rgba(250,250,250,0.6);"><i style="transform:translateX(0.64px) scaleX(1.0000) rotate(0.03deg);-webkit-text-stroke:0.38px currentColor;">4</i></span>
<span class="t" style="left:58px;top:152px;font:400 13.3px/1 'Liberation Sans';color:#fafafa;"><i style="transform:translateX(0.00px) scaleX(0.9045) rotate(0.03deg);-webkit-text-stroke:0.42px currentColor;">STL</i></span>
<span class="t" style="left:147px;top:152px;font:400 13.3px/1 'Liberation Sans';color:#fafafa;"><i style="transform:translateX(0.32px) scaleX(0.9514) rotate(0.03deg);-webkit-text-stroke:0.42px currentColor;">0.0001</i></span>
<span class="t" style="left:33px;top:187px;font:400 13.3px/1 'Liberation Sans';color:rgba(250,250,250,0.6);"><i style="transform:translateX(0.64px) scaleX(1.0000) rotate(0.03deg);-webkit-text-stroke:0.38px currentColor;">0</i></span>
<span class="t" style="left:58px;top:187px;font:400 13.3px/1 'Liberation Sans';color:#fafafa;"><i style="transform:translateX(0.18px) scaleX(0.8222) rotate(0.03deg);-webkit-text-stroke:0.42px currentColor;">PTS</i></span>
<span class="t" style="left:142px;top:187px;font:400 13.3px/1 'Liberation Sans';color:#fafafa;"><i style="transform:translateX(0.97px) scaleX(0.9546) rotate(0.03deg);-webkit-text-stroke:0.42px currentColor;">-0.0331</i></span>
<span class="t" style="left:33px;top:222px;font:400 13.3px/1 'Liberation Sans';color:rgba(250,250,250,0.6);"><i style="transform:translateX(0.64px) scaleX(1.0000) rotate(0.03deg);-webkit-text-stroke:0.38px currentColor;">3</i></span>
<span class="t" style="left:58px;top:222px;font:400 13.3px/1 'Liberation Sans';color:#fafafa;"><i style="transform:translateX(0.05px) scaleX(0.9494) rotate(0.03deg);-webkit-text-stroke:0.42px currentColor;">BLK</i></span>
<span class="t" style="left:142px;top:222px;font:400 13.3px/1 'Liberation Sans';color:#fafafa;"><i style="transform:translateX(0.97px) scaleX(0.9761) rotate(0.03deg);-webkit-text-stroke:0.42px currentColor;">-0.0411</i></span></div>
<div class="clip" style="left:417px;top:578px;width:304px;height:204px"><span class="t" style="left:58px;top:12px;font:400 13.3px/1 'Liberation Sans';color:rgba(250,250,250,0.6);"><i style="transform:translateX(0.10px) scaleX(0.8951) rotate(0.03deg);-webkit-text-stroke:0.38px currentColor;">Rk</i></span>
<span class="t" style="left:108px;top:12px;font:400 13.3px/1 'Liberation Sans';color:rgba(250,250,250,0.6);"><i style="transform:translateX(0.00px) scaleX(0.8000) rotate(0.03deg);-webkit-text-stroke:0.38px currentColor;">G</i></span>
<span class="t" style="left:158px;top:12px;font:400 13.3px/1 'Liberation Sans';color:rgba(250,250,250,0.6);"><i style="transform:translateX(0.03px) scaleX(0.9746) rotate(0.03deg);-webkit-text-stroke:0.38px currentColor;">Date</i></span>
<span class="t" style="left:239px;top:12px;font:400 13.3px/1 'Liberation Sans';color:rgba(250,250,250,0.6);"><i style="transform:translateX(0.00px) scaleX(0.9338) rotate(0.03deg);-webkit-text-stroke:0.38px currentColor;">Tm</i></span>
<span class="t" style="left:289px;top:12px;font:400 13.3px/1 'Liberation Sans';color:rgba(250,250,250,0.6);"><i style="transform:translateX(0.00px) scaleX(1.0133) rotate(0.03deg);-webkit-text-stroke:0.38px currentColor;">Opp</i></span>
<span class="t" style="left:33px;top:47px;font:400 13.3px/1 'Liberation Sans';color:rgba(250,250,250,0.6);"><i style="transform:translateX(0.64px) scaleX(1.0000) rotate(0.03deg);-webkit-text-stroke:0.38px currentColor;">0</i></span>
<span class="t" style="left:83px;top:47px;font:400 13.3px/1 'Liberation Sans';color:#fafafa;"><i style="transform:translateX(0.64px) scaleX(1.0000) rotate(0.03deg);-webkit-text-stroke:0.42px currentColor;">1</i></span>
<span class="t" style="left:133px;top:47px;font:400 13.3px/1 'Liberation Sans';color:#fafafa;"><i style="transform:translateX(0.64px) scaleX(1.0000) rotate(0.03deg);-webkit-text-stroke:0.42px currentColor;">1</i></span>
<span class="t" style="left:158px;top:47px;font:400 13.3px/1 'Liberation Sans';color:#fafafa;"><i style="transform:translateX(0.00px) scaleX(0.9526) rotate(0.03deg);-webkit-text-stroke:0.42px currentColor;">2021-10-20</i></span>
<span class="t" style="left:239px;top:47px;font:400 13.3px/1 'Liberation Sans';color:#fafafa;"><i style="transform:translateX(0.00px) scaleX(0.8988) rotate(0.03deg);-webkit-text-stroke:0.42px currentColor;">TOR</i></span>
<span class="t" style="left:289px;top:47px;font:400 13.3px/1 'Liberation Sans';color:#fafafa;"><i style="transform:translateX(0.00px) scaleX(0.8557) rotate(0.03deg);-webkit-text-stroke:0.42px currentColor;">WAS</i></span>
<span class="t" style="left:33px;top:82px;font:400 13.3px/1 'Liberation Sans';color:rgba(250,250,250,0.6);"><i style="transform:translateX(0.64px) scaleX(1.0000) rotate(0.03deg);-webkit-text-stroke:0.38px currentColor;">1</i></span>
<span class="t" style="left:83px;top:82px;font:400 13.3px/1 'Liberation Sans';color:#fafafa;"><i style="transform:translateX(0.64px) scaleX(1.0000) rotate(0.03deg);-webkit-text-stroke:0.42px currentColor;">2</i></span>
<span class="t" style="left:133px;top:82px;font:400 13.3px/1 'Liberation Sans';color:#fafafa;"><i style="transform:translateX(0.64px) scaleX(1.0000) rotate(0.03deg);-webkit-text-stroke:0.42px currentColor;">2</i></span>
<span class="t" style="left:158px;top:82px;font:400 13.3px/1 'Liberation Sans';color:#fafafa;"><i style="transform:translateX(0.00px) scaleX(0.9526) rotate(0.03deg);-webkit-text-stroke:0.42px currentColor;">2021-10-22</i></span>
<span class="t" style="left:239px;top:82px;font:400 13.3px/1 'Liberation Sans';color:#fafafa;"><i style="transform:translateX(0.00px) scaleX(0.8988) rotate(0.03deg);-webkit-text-stroke:0.42px currentColor;">TOR</i></span>
<span class="t" style="left:289px;top:82px;font:400 13.3px/1 'Liberation Sans';color:#fafafa;"><i style="transform:translateX(0.14px) scaleX(0.8646) rotate(0.03deg);-webkit-text-stroke:0.42px currentColor;">BOS</i></span>
<span class="t" style="left:33px;top:117px;font:400 13.3px/1 'Liberation Sans';color:rgba(250,250,250,0.6);"><i style="transform:translateX(0.64px) scaleX(1.0000) rotate(0.03deg);-webkit-text-stroke:0.38px currentColor;">2</i></span>
<span class="t" style="left:83px;top:117px;font:400 13.3px/1 'Liberation Sans';color:#fafafa;"><i style="transform:translateX(0.64px) scaleX(1.0000) rotate(0.03deg);-webkit-text-stroke:0.42px currentColor;">3</i></span>
<span class="t" style="left:133px;top:117px;font:400 13.3px/1 'Liberation Sans';color:#fafafa;"><i style="transform:translateX(0.64px) scaleX(1.0000) rotate(0.03deg);-webkit-text-stroke:0.42px currentColor;">3</i></span>
<span class="t" style="left:158px;top:117px;font:400 13.3px/1 'Liberation Sans';color:#fafafa;"><i style="transform:translateX(0.00px) scaleX(0.9526) rotate(0.03deg);-webkit-text-stroke:0.42px currentColor;">2021-10-23</i></span>
<span class="t" style="left:239px;top:117px;font:400 13.3px/1 'Liberation Sans';color:#fafafa;"><i style="transform:translateX(0.00px) scaleX(0.8988) rotate(0.03deg);-webkit-text-stroke:0.42px currentColor;">TOR</i></span>
<span class="t" style="left:289px;top:117px;font:400 13.3px/1 'Liberation Sans';color:#fafafa;"><i style="transform:translateX(0.10px) scaleX(0.9019) rotate(0.03deg);-webkit-text-stroke:0.42px currentColor;">DAL</i></span>
<span class="t" style="left:33px;top:152px;font:400 13.3px/1 'Liberation Sans';color:rgba(250,250,250,0.6);"><i style="transform:translateX(0.64px) scaleX(1.0000) rotate(0.03deg);-webkit-text-stroke:0.38px currentColor;">3</i></span>
<span class="t" style="left:83px;top:152px;font:400 13.3px/1 'Liberation Sans';color:#fafafa;"><i style="transform:translateX(0.64px) scaleX(1.0000) rotate(0.03deg);-webkit-text-stroke:0.42px currentColor;">4</i></span>
<span class="t" style="left:133px;top:152px;font:400 13.3px/1 'Liberation Sans';color:#fafafa;"><i style="transform:translateX(0.64px) scaleX(1.0000) rotate(0.03deg);-webkit-text-stroke:0.42px currentColor;">4</i></span>
<span class="t" style="left:158px;top:152px;font:400 13.3px/1 'Liberation Sans';color:#fafafa;"><i style="transform:translateX(0.00px) scaleX(0.9526) rotate(0.03deg);-webkit-text-stroke:0.42px currentColor;">2021-10-25</i></span>
<span class="t" style="left:239px;top:152px;font:400 13.3px/1 'Liberation Sans';color:#fafafa;"><i style="transform:translateX(0.00px) scaleX(0.8988) rotate(0.03deg);-webkit-text-stroke:0.42px currentColor;">TOR</i></span>
<span class="t" style="left:289px;top:152px;font:400 13.3px/1 'Liberation Sans';color:#fafafa;"><i style="transform:translateX(0.00px) scaleX(0.9062) rotate(0.03deg);-webkit-text-stroke:0.42px currentColor;">CHI</i></span>
<span class="t" style="left:33px;top:187px;font:400 13.3px/1 'Liberation Sans';color:rgba(250,250,250,0.6);"><i style="transform:translateX(0.64px) scaleX(1.0000) rotate(0.03deg);-webkit-text-stroke:0.38px currentColor;">4</i></span>
<span class="t" style="left:83px;top:187px;font:400 13.3px/1 'Liberation Sans';color:#fafafa;"><i style="transform:translateX(0.64px) scaleX(1.0000) rotate(0.03deg);-webkit-text-stroke:0.42px currentColor;">5</i></span>
<span class="t" style="left:133px;top:187px;font:400 13.3px/1 'Liberation Sans';color:#fafafa;"><i style="transform:translateX(0.64px) scaleX(1.0000) rotate(0.03deg);-webkit-text-stroke:0.42px currentColor;">5</i></span>
<span class="t" style="left:158px;top:187px;font:400 13.3px/1 'Liberation Sans';color:#fafafa;"><i style="transform:translateX(0.00px) scaleX(0.9526) rotate(0.03deg);-webkit-text-stroke:0.42px currentColor;">2021-10-27</i></span>
<span class="t" style="left:239px;top:187px;font:400 13.3px/1 'Liberation Sans';color:#fafafa;"><i style="transform:translateX(0.00px) scaleX(0.8988) rotate(0.03deg);-webkit-text-stroke:0.42px currentColor;">TOR</i></span>
<span class="t" style="left:289px;top:187px;font:400 13.3px/1 'Liberation Sans';color:#fafafa;"><i style="transform:translateX(0.07px) scaleX(0.9269) rotate(0.03deg);-webkit-text-stroke:0.42px currentColor;">IND</i></span></div>
<div class="clip" style="left:761px;top:811px;width:805px;height:109px"><span class="t" style="left:58px;top:12px;font:400 13.3px/1 'Liberation Sans';color:rgba(250,250,250,0.6);"><i style="transform:translateX(0.00px) scaleX(0.9337) rotate(0.03deg);-webkit-text-stroke:0.38px currentColor;">Season</i></span>
<span class="t" style="left:121px;top:12px;font:400 13.3px/1 'Liberation Sans';color:rgba(250,250,250,0.6);"><i style="transform:translateX(0.00px) scaleX(0.9675) rotate(0.03deg);-webkit-text-stroke:0.38px currentColor;">Team</i></span>
<span class="t" style="left:171px;top:12px;font:400 13.3px/1 'Liberation Sans';color:rgba(250,250,250,0.6);"><i style="transform:translateX(0.00px) scaleX(0.9433) rotate(0.03deg);-webkit-text-stroke:0.38px currentColor;">Games Played</i></span>
<span class="t" style="left:270px;top:12px;font:400 13.3px/1 'Liberation Sans';color:rgba(250,250,250,0.6);"><i style="transform:translateX(0.00px) scaleX(0.9535) rotate(0.03deg);-webkit-text-stroke:0.38px currentColor;">Games Started</i></span>
<span class="t" style="left:372px;top:12px;font:400 13.3px/1 'Liberation Sans';color:rgba(250,250,250,0.6);"><i style="transform:translateX(0.01px) scaleX(0.9885) rotate(0.03deg);-webkit-text-stroke:0.38px currentColor;">Minutes</i></span>
<span class="t" style="left:435px;top:12px;font:400 13.3px/1 'Liberation Sans';color:rgba(250,250,250,0.6);"><i style="transform:translateX(0.01px) scaleX(0.9880) rotate(0.03deg);-webkit-text-stroke:0.38px currentColor;">Points</i></span>
<span class="t" style="left:488px;top:12px;font:400 13.3px/1 'Liberation Sans';color:rgba(250,250,250,0.6);"><i style="transform:translateX(0.03px) scaleX(0.9695) rotate(0.03deg);-webkit-text-stroke:0.38px currentColor;">Rebounds</i></span>
<span class="t" style="left:564px;top:12px;font:400 13.3px/1 'Liberation Sans';color:rgba(250,250,250,0.6);"><i style="transform:translateX(0.00px) scaleX(0.9249) rotate(0.03deg);-webkit-text-stroke:0.38px currentColor;">Assists</i></span>
<span class="t" style="left:620px;top:12px;font:400 13.3px/1 'Liberation Sans';color:rgba(250,250,250,0.6);"><i style="transform:translateX(0.00px) scaleX(0.9398) rotate(0.03deg);-webkit-text-stroke:0.38px currentColor;">Steals</i></span>
<span class="t" style="left:671px;top:12px;font:400 13.3px/1 'Liberation Sans';color:rgba(250,250,250,0.6);"><i style="transform:translateX(0.02px) scaleX(0.9789) rotate(0.03deg);-webkit-text-stroke:0.38px currentColor;">Blocks</i></span>
<span class="t" style="left:726px;top:12px;font:400 13.3px/1 'Liberation Sans';color:rgba(250,250,250,0.6);"><i style="transform:translateX(0.05px) scaleX(0.9510) rotate(0.03deg);-webkit-text-stroke:0.38px currentColor;">Field Goals Made</i></span>
<span class="t" style="left:33px;top:47px;font:400 13.3px/1 'Liberation Sans';color:rgba(250,250,250,0.6);"><i style="transform:translateX(0.64px) scaleX(1.0000) rotate(0.03deg);-webkit-text-stroke:0.38px currentColor;">0</i></span>
<span class="t" style="left:58px;top:47px;font:400 13.3px/1 'Liberation Sans';color:#fafafa;"><i style="transform:translateX(0.00px) scaleX(0.9533) rotate(0.03deg);-webkit-text-stroke:0.42px currentColor;">2021-22</i></span>
<span class="t" style="left:121px;top:47px;font:400 13.3px/1 'Liberation Sans';color:#fafafa;"><i style="transform:translateX(0.00px) scaleX(0.8988) rotate(0.03deg);-webkit-text-stroke:0.42px currentColor;">TOR</i></span>
<span class="t" style="left:238px;top:47px;font:400 13.3px/1 'Liberation Sans';color:#fafafa;"><i style="transform:translateX(0.68px) scaleX(0.9696) rotate(0.03deg);-webkit-text-stroke:0.42px currentColor;">74</i></span>
<span class="t" style="left:340px;top:47px;font:400 13.3px/1 'Liberation Sans';color:#fafafa;"><i style="transform:translateX(0.68px) scaleX(0.9696) rotate(0.03deg);-webkit-text-stroke:0.42px currentColor;">74</i></span>
<span class="t" style="left:393px;top:47px;font:400 13.3px/1 'Liberation Sans';color:#fafafa;"><i style="transform:translateX(0.24px) scaleX(0.9575) rotate(0.03deg);-webkit-text-stroke:0.42px currentColor;">35.4</i></span>
<span class="t" style="left:446px;top:47px;font:400 13.3px/1 'Liberation Sans';color:#fafafa;"><i style="transform:translateX(0.28px) scaleX(0.9558) rotate(0.03deg);-webkit-text-stroke:0.42px currentColor;">15.3</i></span>
<span class="t" style="left:529px;top:47px;font:400 13.3px/1 'Liberation Sans';color:#fafafa;"><i style="transform:translateX(0.20px) scaleX(0.9643) rotate(0.03deg);-webkit-text-stroke:0.42px currentColor;">7.5</i></span>
<span class="t" style="left:585px;top:47px;font:400 13.3px/1 'Liberation Sans';color:#fafafa;"><i style="transform:translateX(0.20px) scaleX(0.9643) rotate(0.03deg);-webkit-text-stroke:0.42px currentColor;">3.5</i></span>
<span class="t" style="left:636px;top:47px;font:400 13.3px/1 'Liberation Sans';color:#fafafa;"><i style="transform:translateX(0.24px) scaleX(0.9622) rotate(0.03deg);-webkit-text-stroke:0.42px currentColor;">1.1</i></span>
<span class="t" style="left:691px;top:47px;font:400 13.3px/1 'Liberation Sans';color:#fafafa;"><i style="transform:translateX(0.20px) scaleX(0.9643) rotate(0.03deg);-webkit-text-stroke:0.42px currentColor;">0.7</i></span>
<span class="t" style="left:33px;top:82px;font:400 13.3px/1 'Liberation Sans';color:rgba(250,250,250,0.6);"><i style="transform:translateX(0.64px) scaleX(1.0000) rotate(0.03deg);-webkit-text-stroke:0.38px currentColor;">1</i></span>
<span class="t" style="left:58px;top:82px;font:400 13.3px/1 'Liberation Sans';color:#fafafa;"><i style="transform:translateX(0.00px) scaleX(0.9533) rotate(0.03deg);-webkit-text-stroke:0.42px currentColor;">2022-23</i></span>
<span class="t" style="left:121px;top:82px;font:400 13.3px/1 'Liberation Sans';color:#fafafa;"><i style="transform:translateX(0.00px) scaleX(0.8988) rotate(0.03deg);-webkit-text-stroke:0.42px currentColor;">TOR</i></span>
<span class="t" style="left:238px;top:82px;font:400 13.3px/1 'Liberation Sans';color:#fafafa;"><i style="transform:translateX(0.68px) scaleX(0.9696) rotate(0.03deg);-webkit-text-stroke:0.42px currentColor;">77</i></span>
<span class="t" style="left:340px;top:82px;font:400 13.3px/1 'Liberation Sans';color:#fafafa;"><i style="transform:translateX(0.68px) scaleX(0.9696) rotate(0.03deg);-webkit-text-stroke:0.42px currentColor;">76</i></span>
<span class="t" style="left:393px;top:82px;font:400 13.3px/1 'Liberation Sans';color:#fafafa;"><i style="transform:translateX(0.24px) scaleX(0.9575) rotate(0.03deg);-webkit-text-stroke:0.42px currentColor;">34.8</i></span>
<span class="t" style="left:446px;top:82px;font:400 13.3px/1 'Liberation Sans';color:#fafafa;"><i style="transform:translateX(0.28px) scaleX(0.9558) rotate(0.03deg);-webkit-text-stroke:0.42px currentColor;">15.3</i></span>
<span class="t" style="left:529px;top:82px;font:400 13.3px/1 'Liberation Sans';color:#fafafa;"><i style="transform:translateX(0.20px) scaleX(0.9643) rotate(0.03deg);-webkit-text-stroke:0.42px currentColor;">6.6</i></span>
<span class="t" style="left:585px;top:82px;font:400 13.3px/1 'Liberation Sans';color:#fafafa;"><i style="transform:translateX(0.20px) scaleX(0.9643) rotate(0.03deg);-webkit-text-stroke:0.42px currentColor;">4.8</i></span>
<span class="t" style="left:636px;top:82px;font:400 13.3px/1 'Liberation Sans';color:#fafafa;"><i style="transform:translateX(0.24px) scaleX(0.9622) rotate(0.03deg);-webkit-text-stroke:0.42px currentColor;">1.1</i></span>
<span class="t" style="left:691px;top:82px;font:400 13.3px/1 'Liberation Sans';color:#fafafa;"><i style="transform:translateX(0.20px) scaleX(0.9643) rotate(0.03deg);-webkit-text-stroke:0.42px currentColor;">0.8</i></span></div>
  </div>
  <div class="tframe" style="left:416px;top:250px;width:197px;height:247px"><div class="gut" style="left:189px;top:0;width:6px;height:245px"></div><div class="gut" style="left:0;top:239px;width:195px;height:6px"></div><div class="corner" style="left:189px;top:239px;width:6px;height:6px"></div></div>
<div class="tframe" style="left:416px;top:577px;width:312px;height:212px"><div class="gut" style="left:304px;top:0;width:6px;height:210px"></div><div class="gut" style="left:0;top:204px;width:310px;height:6px"></div><div class="corner" style="left:304px;top:204px;width:6px;height:6px"></div></div>
<div class="tframe" style="left:760px;top:810px;width:813px;height:111px"><div class="gut" style="left:805px;top:0;width:6px;height:109px"></div><div class="gut" style="left:0;top:109px;width:811px;height:0px"></div><div class="corner" style="left:805px;top:109px;width:6px;height:0px"></div></div>
  </main>
  <svg class="abs" style="left:1794px;top:856px" width="50" height="48" viewBox="1794 856 50 48" ><defs><radialGradient id="ag" cx="0.5" cy="0.5" r="0.5"><stop offset="0.62" stop-color="#25272e"/><stop offset="0.8" stop-color="#1a1c23" stop-opacity="0.85"/><stop offset="1" stop-color="#0e1117" stop-opacity="0"/></radialGradient><clipPath id="avc"><circle cx="1819" cy="880.8" r="16.1"/></clipPath>
<filter id="avb" x="-10%" y="-10%" width="120%" height="120%"><feGaussianBlur stdDeviation="0.55"/></filter></defs>
<circle cx="1819" cy="880.8" r="24" fill="url(#ag)"/>
<g clip-path="url(#avc)"><g filter="url(#avb)">
<rect x="1800" y="862" width="38" height="38" fill="#dde5e8"/>
<rect x="1812" y="862" width="16.4" height="16" fill="#f1f5f6"/>
<rect x="1812.4" y="864" width="1.4" height="14" fill="#aebcc6"/><rect x="1816.2" y="864" width="1.5" height="12" fill="#c3ced6"/><rect x="1816.6" y="866" width="0.8" height="5" fill="#c98a8a"/>
<rect x="1828" y="867.6" width="3" height="10.4" fill="#46536a"/>
<rect x="1800" y="868" width="12" height="8" fill="#b9c8c2"/>
<rect x="1802" y="873.6" width="10" height="13" fill="#cbbfa4"/>
<rect x="1803.8" y="877.8" width="2" height="6" fill="#3d4b4a"/><circle cx="1804.4" cy="883.4" r="0.8" fill="#c8303a"/>
<ellipse cx="1809.8" cy="879" rx="2.8" ry="3.6" fill="#86b872"/>
<ellipse cx="1831" cy="878" rx="5.4" ry="7" fill="#7db868"/><ellipse cx="1832.6" cy="874" rx="3" ry="3.4" fill="#5f9a52"/><ellipse cx="1827.6" cy="882.6" rx="3.4" ry="2.6" fill="#8cc474"/>
<rect x="1826" y="884" width="12" height="7" fill="#cdd5d4"/><rect x="1827.6" y="884.2" width="6" height="1.2" fill="#6a4a3a"/>
<rect x="1800" y="886.4" width="12" height="3" fill="#8aa852"/><rect x="1804" y="888" width="4" height="1.6" fill="#d8b848"/>
<path d="M1805.4 890.4 C1807 887.6 1809.6 886 1812.4 884.6 L1816 883 L1824 883.4 C1827.6 884.6 1830 886.8 1831.6 890 L1833 898 L1803 898 Z" fill="#0e1325"/>
<ellipse cx="1820.2" cy="880.8" rx="4.6" ry="3.9" fill="#cdab95"/>
<path d="M1812 880.4 C1810.8 873.6 1814.6 870.8 1819.6 870.8 C1824.8 870.8 1827 874.4 1826 879 C1825 877.2 1823.6 876.6 1821 877.2 C1818.6 877.8 1816.4 878.4 1814.4 878.6 C1813.8 879.6 1813.4 881.6 1813.6 883.6 C1812.6 882.8 1812.2 881.6 1812 880.4 Z" fill="#10152a"/>
<path d="M1815 885.9 L1818.8 883 L1823.7 884.5 L1825.4 890.8 L1822 890.4 L1819.6 887.6 L1817 894.2 L1813.8 892.8 Z" fill="#e4c2a7"/>
<path d="M1817 894.2 L1819.6 887.6 L1822 890.4 L1822.6 894.6 Z" fill="#090c16"/>
</g></g></svg><div class="badge"></div><svg class="abs" style="z-index:61;left:1872px;top:872px" width="30" height="18" viewBox="1872 872 30 18" ><path d="M1873.7 876.5 L1882.3 880.3 L1892.4 885.4 L1895.3 888 L1878.4 888 Z" fill="#fff"/>
<path d="M1886.8 874.2 L1891.6 880.2 L1892.4 885.4 L1882.3 880.3 Z" fill="#ffe1e5"/>
<path d="M1899.6 876.3 L1895.3 888 L1892.4 885.4 L1891.6 880.2 Z" fill="#fdbfc8"/></svg>
  <div class="winborder"></div>
</div>
</body></html>
